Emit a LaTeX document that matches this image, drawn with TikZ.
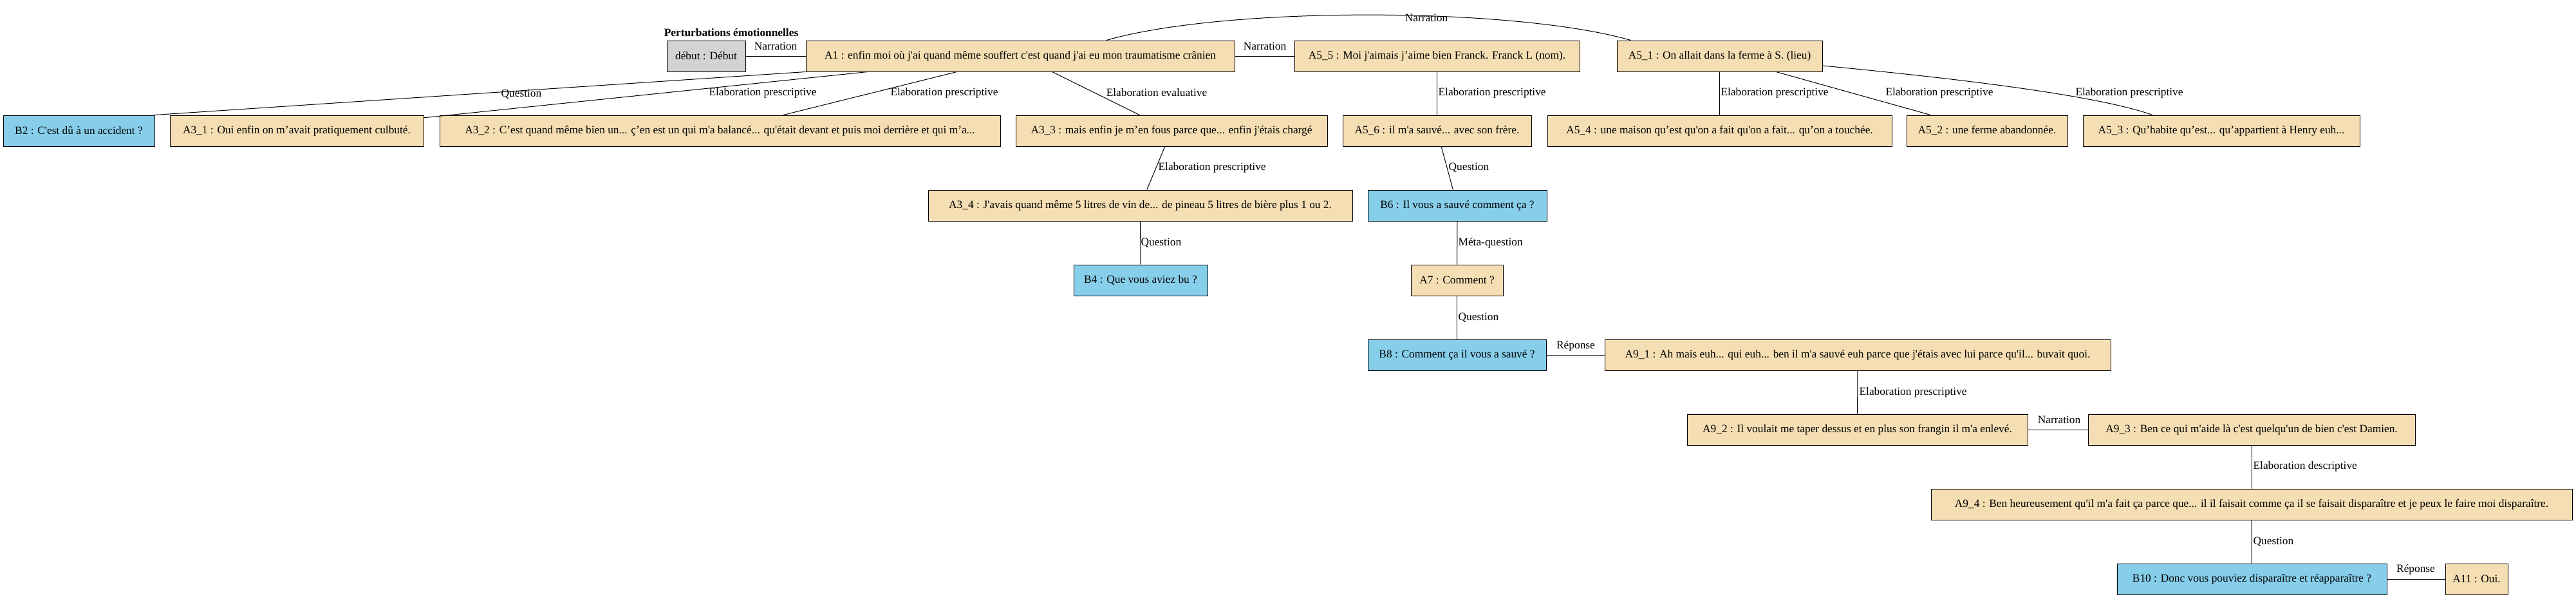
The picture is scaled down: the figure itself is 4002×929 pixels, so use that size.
\documentclass[tikz,border=0pt]{standalone}
\usepackage{fontspec}
\setmainfont{Liberation Serif}[Ligatures=TeXOff]
\usetikzlibrary{positioning}
\definecolor{wheat}{HTML}{F5DEB3}
\definecolor{skyblue}{HTML}{87CEEB}
\definecolor{greybox}{HTML}{D3D3D3}

\begin{document}
\begin{tikzpicture}[x=0.75pt, y=-0.75pt, every node/.style={font=\fontsize{13}{15}\selectfont},
  seg/.style={draw, line width=0.75pt, minimum height=36pt, inner sep=0pt},
  aseg/.style={seg, fill=wheat}, bseg/.style={seg, fill=skyblue}, dseg/.style={seg, fill=greybox},
  rel/.style={line width=0.75pt}, lab/.style={inner sep=1pt}]
  \useasboundingbox (0,0) rectangle (4002,929);
  % top row
  \node[font=\fontsize{13}{15}\selectfont\bfseries] (titre) at (1136,51) {Perturbations émotionnelles};
  \node[dseg, minimum width=91.5pt] (debut) at (1097,87) {début : Début};
  \node[aseg, minimum width=499.5pt] (A1) at (1585,87) {A1 : enfin moi où j'ai quand même souffert c'est quand j'ai eu mon traumatisme crânien};
  \node[aseg, minimum width=332.25pt] (A5_5) at (2232.5,87) {A5\_5 : Moi j'aimais j’aime bien Franck. Franck L (nom).};
  \node[aseg, minimum width=239.25pt] (A5_1) at (2671.5,87) {A5\_1 : On allait dans la ferme à S. (lieu)};
  % second row
  \node[bseg, minimum width=176.25pt] (B2) at (122.5,203) {B2 : C'est dû à un accident ?};
  \node[aseg, minimum width=295.5pt] (A3_1) at (461,203) {A3\_1 : Oui enfin on m’avait pratiquement culbuté.};
  \node[aseg, minimum width=653.25pt] (A3_2) at (1118.5,203) {A3\_2 : C’est quand même bien un...  ç’en est un qui m'a balancé... qu'était devant et puis moi derrière et qui m’a...};
  \node[aseg, minimum width=363pt] (A3_3) at (1820,203) {A3\_3 : mais enfin je m’en fous parce que... enfin j'étais chargé};
  \node[aseg, minimum width=219.75pt] (A5_6) at (2232.5,203) {A5\_6 : il m'a sauvé... avec son frère.};
  \node[aseg, minimum width=401.25pt] (A5_4) at (2671.5,203) {A5\_4 : une maison qu’est qu'on a fait qu'on a fait... qu’on a touchée.};
  \node[aseg, minimum width=187.5pt] (A5_2) at (3087,203) {A5\_2 : une ferme abandonnée.};
  \node[aseg, minimum width=322.5pt] (A5_3) at (3451,203) {A5\_3 : Qu’habite qu’est... qu’appartient à Henry euh...};
  % lower rows
  \node[aseg, minimum width=494.25pt] (A3_4) at (1771.5,319) {A3\_4 : J'avais quand même 5 litres de vin de... de  pineau 5 litres de bière plus 1 ou 2.};
  \node[bseg, minimum width=208.5pt] (B6) at (2264,319) {B6 : Il vous a sauvé comment ça ?};
  \node[bseg, minimum width=156pt] (B4) at (1772,435) {B4 : Que vous aviez bu ?};
  \node[aseg, minimum width=107.25pt] (A7) at (2263.5,435) {A7 : Comment ?};
  \node[bseg, minimum width=207.75pt] (B8) at (2263.5,551) {B8 : Comment ça il vous a sauvé ?};
  \node[aseg, minimum width=589.5pt] (A9_1) at (2886,551) {A9\_1 : Ah mais euh... qui euh... ben il m'a sauvé euh parce que j'étais avec lui parce qu'il... buvait quoi.};
  \node[aseg, minimum width=396.75pt] (A9_2) at (2885.5,667) {A9\_2 : Il voulait me taper dessus et en plus son frangin il m'a enlevé.};
  \node[aseg, minimum width=381pt] (A9_3) at (3498,667) {A9\_3 : Ben ce qui m'aide là c'est quelqu'un de bien c'est Damien.};
  \node[aseg, minimum width=747pt] (A9_4) at (3498,783) {A9\_4 : Ben heureusement qu'il m'a fait ça parce que... il il faisait comme ça il se faisait disparaître et je peux le faire moi disparaître.};
  \node[bseg, minimum width=314.25pt] (B10) at (3498.5,899) {B10 : Donc vous pouviez disparaître et réapparaître ?};
  \node[aseg, minimum width=72.75pt] (A11) at (3847.5,899) {A11 : Oui.};
  % relations
  \draw[rel] (debut) -- (A1);
  \draw[rel] (A1) -- (A5_5);
  \draw[rel] ([xshift=100.5pt]A1.north) .. controls (1900,10) and (2350,10) .. ([xshift=-103.5pt]A5_1.north);
  \draw[rel] (A1.south west) -- (B2.north east);
  \draw[rel] (A1) -- (A3_1);
  \draw[rel] (A1) -- (A3_2);
  \draw[rel] (A1) -- (A3_3);
  \draw[rel] (A3_3) -- (A3_4);
  \draw[rel] (A3_4) -- (B4);
  \draw[rel] (A5_5) -- (A5_6);
  \draw[rel] (A5_6) -- (B6);
  \draw[rel] (B6) -- (A7);
  \draw[rel] (A7) -- (B8);
  \draw[rel] (B8) -- (A9_1);
  \draw[rel] (A9_1) -- (A9_2);
  \draw[rel] (A9_2) -- (A9_3);
  \draw[rel] (A9_3) -- (A9_4);
  \draw[rel] (A9_4) -- (B10);
  \draw[rel] (B10) -- (A11);
  \draw[rel] (A5_1) -- (A5_4);
  \draw[rel] (A5_1) -- (A5_2);
  \draw[rel] ([yshift=-11.25pt]A5_1.east) .. controls (3000,118) and (3250,145) .. ([xshift=-80.25pt]A5_3.north);
  % labels
  \node[lab] (l1) at (1205,72) {Narration};
  \node[lab] (l2) at (1965,72) {Narration};
  \node[lab] (l3) at (2216,28) {Narration};
  \node[lab] (l4) at (810,146) {Question};
  \node[lab] (l5) at (1185,144) {Elaboration prescriptive};
  \node[lab] (l6) at (1467,144) {Elaboration prescriptive};
  \node[lab] (l7) at (1797,144) {Elaboration evaluative};
  \node[lab, anchor=west] (l8) at (2233,144) {Elaboration prescriptive};
  \node[lab, anchor=west] (l9) at (2672,144) {Elaboration prescriptive};
  \node[lab] (l10) at (3013,144) {Elaboration prescriptive};
  \node[lab] (l11) at (3308,144) {Elaboration prescriptive};
  \node[lab, anchor=west] (l12) at (1798,260) {Elaboration prescriptive};
  \node[lab, anchor=west] (l13) at (2249,260) {Question};
  \node[lab, anchor=west] (l14) at (1771,377) {Question};
  \node[lab, anchor=west] (l15) at (2264,377) {Méta-question};
  \node[lab, anchor=west] (l16) at (2264,493) {Question};
  \node[lab] (l17) at (2448,537) {Réponse};
  \node[lab, anchor=west] (l18) at (2887,609) {Elaboration prescriptive};
  \node[lab] (l19) at (3199,652) {Narration};
  \node[lab, anchor=west] (l20) at (3499,724) {Elaboration descriptive};
  \node[lab, anchor=west] (l21) at (3499,841) {Question};
  \node[lab] (l22) at (3753,884) {Réponse};
\end{tikzpicture}
\end{document}
